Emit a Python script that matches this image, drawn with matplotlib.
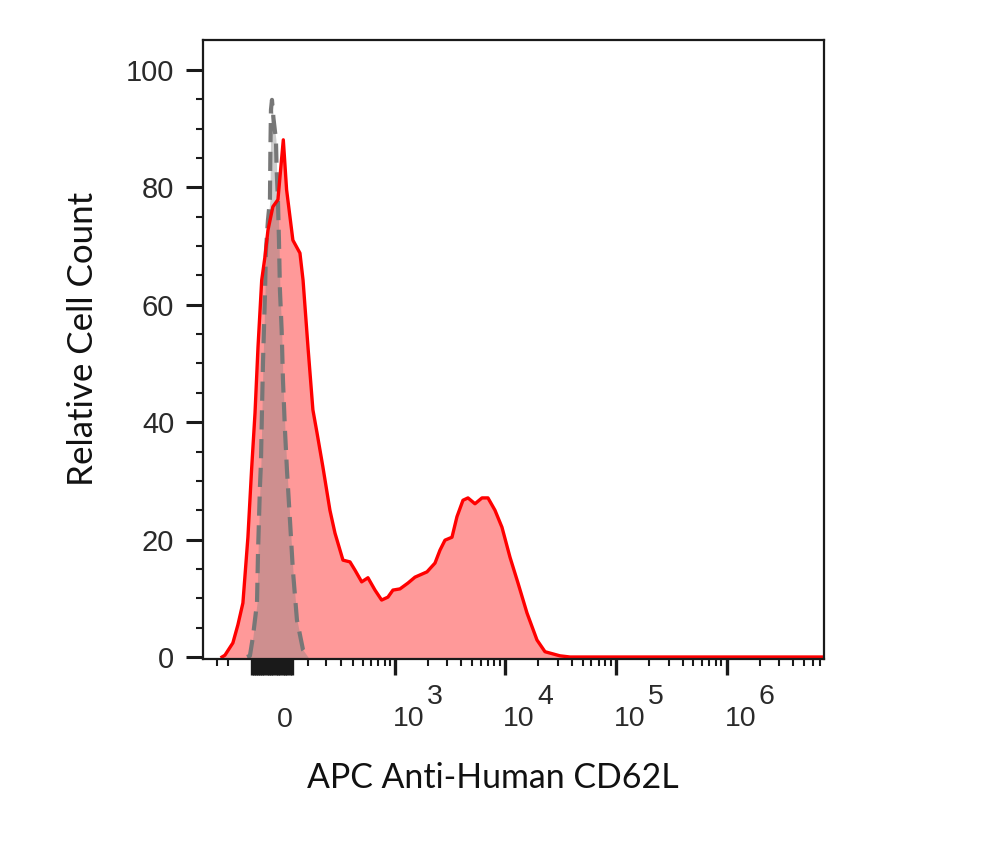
import matplotlib
matplotlib.use('Agg')
import matplotlib.pyplot as plt

# ---- data (fluorescence intensity vs relative cell count) ----
red_intensity = [-352, -328, -268, -234, -203, -174, -154, -136, -121, -103, -88, -74, -52, -30,
                 -7, 7, 34, 65, 79, 102, 126, 147, 179, 221, 254, 312, 370, 416, 485, 558, 651,
                 752, 861, 958, 1112, 1317, 1525, 1961, 2319, 2573, 2856, 3305, 3667, 4156, 4612,
                 5336, 6172, 6993, 8089, 9357, 11056, 13060, 15745, 19380, 22900, 31280, 38530,
                 7.59e6]
red_count = [0, 0.3, 2.4, 5.5, 9.2, 20.4, 31.9, 41.6, 52.8, 64.2, 68.1, 72.7, 76.7, 77.9,
             88.1, 79.6, 71.0, 68.8, 64.2, 52.8, 42.1, 38.2, 32.4, 25.0, 21.1, 16.5, 16.2, 14.8,
             12.8, 13.5, 11.4, 9.7, 10.2, 11.4, 11.6, 12.6, 13.6, 14.5, 16.0, 18.2, 19.9, 20.4,
             23.9, 26.7, 27.1, 26.1, 27.1, 27.1, 25.0, 22.1, 17.0, 12.6, 7.5, 2.9, 0.9, 0.2, 0,
             0]

grey_intensity = [-179, -163, -147, -126, -121, -111.5, -106.7, -102, -97, -88, -83, -74, -65,
                  -63, -60.5, -56, -49.5, -38.6, -35.6, -30, -25.6, -21.4, -14.1, -8.5, 0, 8.5,
                  21.4, 34, 51.7, 79, 102]
grey_count = [0, 0.2, 3.4, 9.2, 17.7, 29.0, 33.0, 41.6, 50.1, 61.3, 69.3, 74.4, 77.9, 86.4,
              93.2, 94.9, 91.8, 88.1, 83.0, 77.9, 71.0, 62.5, 55.7, 47.2, 38.7, 31.9, 23.3,
              14.8, 6.3, 1.2, 0]

y_ticks = [0, 20, 40, 60, 80, 100]
y_minor = [5, 10, 15, 25, 30, 35, 45, 50, 55, 65, 70, 75, 85, 90, 95]
x_decades = [1e3, 1e4, 1e5, 1e6]
x_decade_exp = ['3', '4', '5', '6']
x_cluster = list(range(-150, 31, 10))
x_minor = ([-400, -300] + list(range(100, 1000, 100)) +
           [m * 10 ** e for e in (3, 4, 5) for m in range(2, 10)] +
           [m * 1e6 for m in range(2, 8)])

x_label = 'APC Anti-Human CD62L'
y_label = 'Relative Cell Count'

# ---- figure ----
W, H = 1000, 863
fig = plt.figure(figsize=(W / 100, H / 100), dpi=100)
ax_l, ax_r, ax_t, ax_b = 203, 824, 40, 659
ax = fig.add_axes([ax_l / W, 1 - ax_b / H, (ax_r - ax_l) / W, (ax_b - ax_t) / H])
ax.set_xscale('asinh', linear_width=205)
ax.set_xlim(-545, 7.59e6)
ax.set_ylim(-0.34, 105.1)
ybot = ax.get_ylim()[0]

ax.fill_between(red_intensity, red_count, ybot, color='#ff9999', lw=0, zorder=1)
ax.fill_between(grey_intensity, grey_count, ybot, color='#808080', alpha=0.38, lw=0, zorder=2)
ax.plot(grey_intensity, grey_count, color='#777777', lw=3.0, dashes=(4.6, 2.3), zorder=3)
ax.plot(red_intensity, red_count, color='#ff0000', lw=2.4, zorder=4,
        solid_joinstyle='round')

for s in ax.spines.values():
    s.set_linewidth(1.6)
    s.set_color('#1a1a1a')
    s.set_zorder(5)

tick_font = 'Liberation Sans'
tick_col = '#1a1a1a'
ax.set_yticks(y_ticks)
ax.set_yticks(y_minor, minor=True)
ax.set_yticklabels([str(v) for v in y_ticks], family=tick_font, fontsize=21, color='#2a2a2a')
ax.tick_params(axis='y', which='major', length=12.2, width=2.2, pad=8.5, color=tick_col)
ax.tick_params(axis='y', which='minor', length=5, width=1.5, color=tick_col)

ax.set_xticks(x_cluster + x_decades)
ax.set_xticklabels([''] * (len(x_cluster) + len(x_decades)))
ax.set_xticks(x_minor, minor=True)
ax.tick_params(axis='x', which='major', length=11.5, width=2.4, color=tick_col)
ax.tick_params(axis='x', which='minor', length=5, width=1.5, color=tick_col)

lab_kw = dict(xycoords=('data', 'axes fraction'), textcoords='offset pixels',
              family=tick_font, fontsize=20.5, color='#2a2a2a', va='baseline')
ax.annotate('0', xy=(0, 0), xytext=(0, -68), ha='center', **lab_kw)
for v, e in zip(x_decades, x_decade_exp):
    ax.annotate('10', xy=(v, 0), xytext=(-2, -67), ha='left', **lab_kw)
    ax.annotate(e, xy=(v, 0), xytext=(32, -45), ha='left', **lab_kw)

xl = fig.text(493 / W, 1 - 778 / H, x_label, ha='center', va='center',
              family='Lato', fontsize=22, color='#111111')
yl = fig.text(83 / W, 1 - 338.5 / H, y_label, ha='center', va='center', rotation=90,
              family='Lato', fontsize=22, color='#111111')

fig.canvas.draw()
r = fig.canvas.get_renderer()
for t, target, dim in [(xl, 370, 'w'), (yl, 293, 'h')]:
    bb = t.get_window_extent(r)
    cur = bb.width if dim == 'w' else bb.height
    t.set_fontsize(t.get_fontsize() * target / cur)

fig.savefig('out.png', dpi=100, facecolor='white')
